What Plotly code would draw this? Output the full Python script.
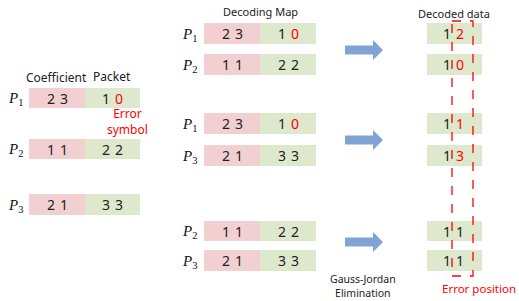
import plotly.graph_objects as go

# ---- data ----
left_labels = ["1", "2", "3"]
left_coef = [("2", "3"), ("1", "1"), ("2", "1")]
left_pkt = [("1", "0"), ("2", "2"), ("3", "3")]
left_red = [True, False, False]  # second packet digit red

map_labels = ["1", "2", "1", "3", "2", "3"]
map_coef = [("2", "3"), ("1", "1"), ("2", "3"), ("2", "1"), ("1", "1"), ("2", "1")]
map_pkt = [("1", "0"), ("2", "2"), ("1", "0"), ("3", "3"), ("2", "2"), ("3", "3")]
map_red = [True, False, True, False, False, False]

decoded_first = ["1", "1", "1", "1", "1", "1"]
decoded_second = ["2", "0", "1", "3", "1", "1"]
decoded_red = [True, True, True, True, False, False]

PINK = "#F2CFD0"
GREEN = "#DDE8CC"
BLUE = "#7FA3D3"
RED = "#FF0000"
BLACK = "#222222"
FONT = "Noto Sans"

fig = go.Figure()
shapes = []
ann = []

def rect(x0, x1, y0, y1, color):
    shapes.append(dict(type="rect", xref="x", yref="y", x0=x0, x1=x1, y0=y0, y1=y1,
                       fillcolor=color, line=dict(width=0), layer="below"))

def text(x, y, s, size=13, color=BLACK, font=FONT, xanchor="center"):
    ann.append(dict(x=x, y=y, xref="x", yref="y", text=s, showarrow=False,
                    font=dict(size=size, color=color, family=font),
                    xanchor=xanchor, yanchor="middle"))

def plabel(x, y, n):
    text(x, y, "<i>P</i><sub>%s</sub>" % n, size=15, font="Liberation Serif", color="#111111")

def pair(xc, yc, a, b, red_b=False):
    text(xc - 6.5, yc, a, size=14)
    text(xc + 6.5, yc, b, size=14, color=RED if red_b else BLACK)

# left panel
left_rows = [(88, 108), (139, 159), (194, 215)]
for i, (y0, y1) in enumerate(left_rows):
    rect(29, 85, y0, y1, PINK)
    rect(85, 140, y0, y1, GREEN)
    yc = (y0 + y1) / 2
    plabel(15, yc + 1, left_labels[i])
    pair(57, yc, left_coef[i][0], left_coef[i][1])
    pair(112, yc, left_pkt[i][0], left_pkt[i][1], left_red[i])
text(56, 77, "Coefficient", size=12)
text(112, 76, "Packet", size=12)
text(127, 121.5, "Error<br>symbol", size=12, color=RED)

# decoding map + decoded data
rows = [(23, 44), (54, 75), (113, 134), (145, 166), (221, 241), (250, 271)]
for i, (y0, y1) in enumerate(rows):
    rect(204, 260, y0, y1, PINK)
    rect(260, 316, y0, y1, GREEN)
    rect(427, 482, y0, y1, GREEN)
    yc = (y0 + y1) / 2
    plabel(189, yc + 1, map_labels[i])
    pair(232, yc, map_coef[i][0], map_coef[i][1])
    pair(288, yc, map_pkt[i][0], map_pkt[i][1], map_red[i])
    text(447, yc, decoded_first[i], size=14)
    text(460, yc, decoded_second[i], size=14, color=RED if decoded_red[i] else BLACK)

text(260, 11, "Decoding Map", size=11)
text(454, 13, "Decoded data", size=11)
text(363, 286, "Gauss-Jordan<br>Elimination", size=10.5)
text(518, 288, "Error position", size=11.5, color=RED, xanchor="right")

# arrows
for yc in [50, 140, 242]:
    path = ("M 345 %g L 373 %g L 373 %g L 383 %g L 373 %g L 373 %g L 345 %g Z" %
            (yc - 4.5, yc - 4.5, yc - 10, yc, yc + 10, yc + 4.5, yc + 4.5))
    shapes.append(dict(type="path", xref="x", yref="y", path=path,
                       fillcolor=BLUE, line=dict(width=0)))

# dashed error-position box
shapes.append(dict(type="rect", xref="x", yref="y", x0=452, x1=473, y0=21, y1=276,
                   line=dict(color=RED, width=1.3, dash="dash"), fillcolor="rgba(0,0,0,0)"))

fig.update_layout(
    width=519, height=301,
    margin=dict(l=0, r=0, t=0, b=0),
    plot_bgcolor="white", paper_bgcolor="white",
    xaxis=dict(range=[0, 519], visible=False, fixedrange=True),
    yaxis=dict(range=[301, 0], visible=False, fixedrange=True),
    shapes=shapes, annotations=ann, showlegend=False,
)
fig.write_html("out.html", config={"displayModeBar": False},
               post_script="document.body.style.margin='0';")
